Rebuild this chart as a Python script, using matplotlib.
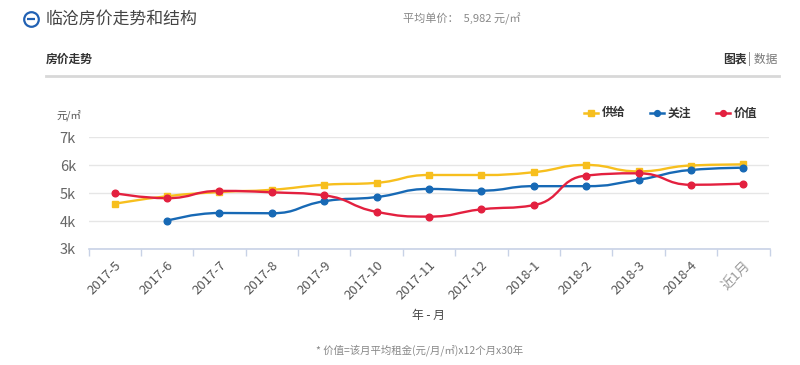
import numpy as np
import matplotlib
matplotlib.use('Agg')
from matplotlib import pyplot as plt
from matplotlib.path import Path
from matplotlib.patches import PathPatch

plt.rcParams['font.family'] = ['Noto Sans CJK SC', 'DejaVu Sans']

months = ['2017-5', '2017-6', '2017-7', '2017-8', '2017-9', '2017-10', '2017-11',
          '2017-12', '2018-1', '2018-2', '2018-3', '2018-4', '近1月']
supply = [4620, 4890, 5040, 5120, 5300, 5370, 5650, 5650, 5750, 6010, 5780, 5990, 6030]
attention = [None, 4010, 4290, 4280, 4710, 4860, 5150, 5090, 5250, 5250, 5480, 5830, 5910]
value = [5000, 4820, 5080, 5030, 4920, 4330, 4160, 4420, 4570, 5630, 5710, 5300, 5340]
yticks = [3000, 4000, 5000, 6000, 7000]
ytick_labels = ['3k', '4k', '5k', '6k', '7k']

c_supply = '#f7bf1e'
c_attention = '#1769b5'
c_value = '#e3203f'

W, H = 800, 365
fig = plt.figure(figsize=(8, 3.65), dpi=100)
ax = fig.add_axes([88.5 / W, 1 - 249 / H, (769.5 - 88.5) / W, (249 - 137.3) / H])


def clamp(v, a, b):
    return min(max(v, min(a, b)), max(a, b))


def smooth_path(xs, ys, sx=52.4, sy=0.0279, k=0.5):
    # bezier smoothing in the echarts way (control points kept inside each segment)
    P = np.column_stack([np.asarray(xs) * sx, np.asarray(ys) * sy]).astype(float)
    n = len(P)
    verts = [P[0]]
    codes = [Path.MOVETO]
    c0 = P[0].copy()
    for i in range(1, n):
        x, y = P[i]
        px, py = P[i - 1]
        if i == n - 1:
            nc0 = np.array([x, y])
            c1 = np.array([x, y])
        else:
            nx, ny = P[i + 1]
            vx, vy = nx - px, ny - py
            lp = np.hypot(x - px, y - py)
            ln = np.hypot(nx - x, ny - y)
            r = ln / (ln + lp)
            c1x = clamp(x + vx * k * r, x, nx)
            c1y = clamp(y + vy * k * r, y, ny)
            vx, vy = c1x - x, c1y - y
            n0x = clamp(x - vx * lp / ln, px, x)
            n0y = clamp(y - vy * lp / ln, py, y)
            vx, vy = x - n0x, y - n0y
            c1x, c1y = x + vx * ln / lp, y + vy * ln / lp
            nc0 = np.array([n0x, n0y])
            c1 = np.array([c1x, c1y])
        verts += [c0, nc0, P[i]]
        codes += [Path.CURVE4] * 3
        c0 = c1
    verts = np.array(verts) / np.array([sx, sy])
    return Path(verts, codes)


series = [(supply, c_supply, 's', '供给'), (attention, c_attention, 'o', '关注'),
          (value, c_value, 'o', '价值')]
for vals, col, mk, name in series:
    xs = [i for i, v in enumerate(vals) if v is not None]
    ys = [v for v in vals if v is not None]
    ax.add_patch(PathPatch(smooth_path(xs, ys), facecolor='none', edgecolor=col,
                           lw=1.7, zorder=3))
    ax.plot(xs, ys, ls='none', marker=mk, ms=4.8 if mk == 'o' else 4.4,
            color=col, zorder=4)

ax.set_xlim(-0.5, len(months) - 0.5)
ax.set_ylim(3000, 7000)
ax.set_yticks(yticks)
ax.set_yticklabels(ytick_labels)
ax.yaxis.grid(True, color='#e6e6e6', lw=1)
ax.set_axisbelow(True)
for s in ['left', 'right', 'top']:
    ax.spines[s].set_visible(False)
ax.spines['bottom'].set_color('#c8d2e6')
ax.spines['bottom'].set_linewidth(1.2)
ax.tick_params(axis='y', length=0, labelsize=10.5, labelcolor='#666666', pad=9)

ax.set_xticks(range(len(months)))
ax.set_xticklabels(months, rotation=45, ha='right', va='top', rotation_mode='anchor')
ax.set_xticks(np.arange(-0.5, len(months), 1), minor=True)
ax.tick_params(axis='x', which='major', length=0, labelsize=9.5, labelcolor='#555555', pad=7)
ax.tick_params(axis='x', which='minor', length=5, color='#c8d2e6', width=1)
ax.get_xticklabels()[-1].set_color('#999999')

# header
fig.add_artist(plt.Line2D([30.5 / W], [1 - 19 / H], marker='o', ms=10.5, mfc='white',
                          mec='#2161b3', mew=1.6, ls='none'))
fig.add_artist(plt.Line2D([30.5 / W], [1 - 19 / H], marker='_', ms=6, mec='#2161b3',
                          mew=1.6, ls='none'))
fig.text(46 / W, 1 - 19 / H, '临沧房价走势和结构', fontsize=12.2, color='#444444', va='center')
fig.text(403 / W, 1 - 19 / H, '平均单价：  5,982 元/㎡', fontsize=8, color='#888888', va='center')
fig.text(46 / W, 1 - 59 / H, '房价走势', fontsize=8.5, fontweight='bold', color='#333333', va='center')
fig.text(747 / W, 1 - 59 / H, '图表', fontsize=8.5, fontweight='bold', color='#333333',
         va='center', ha='right')
fig.text(748 / W, 1 - 59 / H, '| 数据', fontsize=8.5, color='#777777', va='center')
fig.add_artist(plt.Line2D([46 / W, 779 / W], [1 - 76 / H] * 2, color='#d8d8d8', lw=2))

fig.text(56 / W, 1 - 115 / H, '元/㎡', fontsize=7.5, color='#555555', va='center')

# legend
for x0, (vals, col, mk, name) in zip([584, 650, 716], series):
    fig.add_artist(plt.Line2D([x0 / W, (x0 + 14) / W], [1 - 113 / H] * 2, color=col, lw=1.8))
    fig.add_artist(plt.Line2D([(x0 + 7) / W], [1 - 113 / H], color=col, marker=mk,
                              ms=4.2, ls='none'))
    fig.text((x0 + 18) / W, 1 - 113 / H, name, fontsize=8.5, fontweight='bold',
             color='#333333', va='center')

fig.text(428 / W, 1 - 315 / H, '年 - 月', fontsize=8.5, color='#444444', ha='center', va='center')
fig.text(420 / W, 1 - 350 / H, '* 价值=该月平均租金(元/月/㎡)x12个月x30年', fontsize=7.5,
         color='#888888', ha='center', va='center')

plt.savefig('out.png', dpi=100)
